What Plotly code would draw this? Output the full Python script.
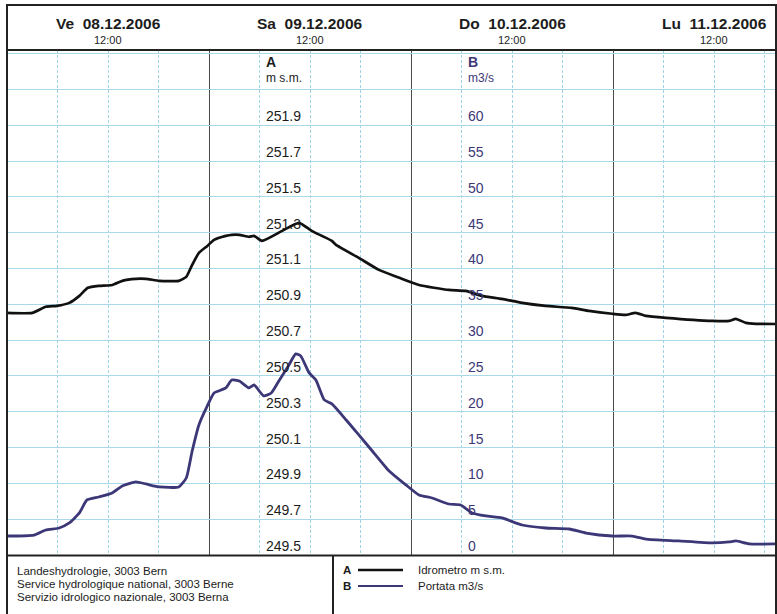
import plotly.graph_objects as go

# ---------------- data ----------------
A_time = ["2006-12-08 00:00", "2006-12-08 03:00", "2006-12-08 04:36", "2006-12-08 05:54", "2006-12-08 07:24",
          "2006-12-08 08:36", "2006-12-08 09:36", "2006-12-08 10:54", "2006-12-08 12:30", "2006-12-08 13:42",
          "2006-12-08 15:18", "2006-12-08 16:30", "2006-12-08 18:06", "2006-12-08 20:24", "2006-12-08 21:18",
          "2006-12-08 22:00", "2006-12-08 22:48", "2006-12-08 23:48", "2006-12-09 00:36", "2006-12-09 02:00",
          "2006-12-09 02:42", "2006-12-09 03:36", "2006-12-09 04:45", "2006-12-09 05:21", "2006-12-09 06:18",
          "2006-12-09 08:42", "2006-12-09 10:42", "2006-12-09 12:12", "2006-12-09 14:36", "2006-12-09 15:06",
          "2006-12-09 17:48", "2006-12-09 20:12", "2006-12-09 22:36", "2006-12-10 00:57", "2006-12-10 04:30",
          "2006-12-10 06:30", "2006-12-10 08:24", "2006-12-10 10:48", "2006-12-10 13:12", "2006-12-10 16:00",
          "2006-12-10 19:06", "2006-12-10 21:09", "2006-12-10 23:54", "2006-12-11 01:30", "2006-12-11 02:42",
          "2006-12-11 03:54", "2006-12-11 06:18", "2006-12-11 11:48", "2006-12-11 13:48", "2006-12-11 14:36",
          "2006-12-11 15:48", "2006-12-11 17:00", "2006-12-11 19:18"]
A_level = [250.852, 250.852, 250.886, 250.891, 250.908,
           250.947, 250.992, 251.003, 251.008, 251.031,
           251.042, 251.042, 251.031, 251.031, 251.053,
           251.120, 251.187, 251.226, 251.260, 251.282,
           251.288, 251.288, 251.277, 251.282, 251.254,
           251.310, 251.355, 251.310, 251.254, 251.232,
           251.159, 251.092, 251.048, 251.008, 250.980,
           250.975, 250.947, 250.930, 250.908, 250.891,
           250.880, 250.863, 250.847, 250.841, 250.852,
           250.835, 250.824, 250.807, 250.807, 250.819,
           250.796, 250.791, 250.790]

B_time = ["2006-12-08 00:00", "2006-12-08 03:12", "2006-12-08 04:36", "2006-12-08 06:12", "2006-12-08 07:24",
          "2006-12-08 08:36", "2006-12-08 09:30", "2006-12-08 10:54", "2006-12-08 12:30", "2006-12-08 13:42",
          "2006-12-08 15:18", "2006-12-08 16:30", "2006-12-08 18:06", "2006-12-08 20:24", "2006-12-08 21:18",
          "2006-12-08 22:00", "2006-12-08 22:48", "2006-12-08 23:48", "2006-12-09 00:36", "2006-12-09 02:00",
          "2006-12-09 02:42", "2006-12-09 03:36", "2006-12-09 04:45", "2006-12-09 05:21", "2006-12-09 06:30",
          "2006-12-09 07:24", "2006-12-09 08:18", "2006-12-09 09:30", "2006-12-09 10:18", "2006-12-09 10:54",
          "2006-12-09 11:54", "2006-12-09 12:42", "2006-12-09 13:42", "2006-12-09 14:36", "2006-12-09 16:18",
          "2006-12-09 17:48", "2006-12-09 19:24", "2006-12-09 21:24", "2006-12-09 23:24", "2006-12-10 00:57",
          "2006-12-10 02:30", "2006-12-10 04:30", "2006-12-10 05:54", "2006-12-10 07:15", "2006-12-10 08:54",
          "2006-12-10 10:48", "2006-12-10 13:12", "2006-12-10 16:00", "2006-12-10 18:48", "2006-12-10 20:48",
          "2006-12-10 23:54", "2006-12-11 02:18", "2006-12-11 03:54", "2006-12-11 07:48", "2006-12-11 11:48",
          "2006-12-11 13:48", "2006-12-11 14:36", "2006-12-11 16:12", "2006-12-11 19:18"]
B_flow = [2.65, 2.79, 3.49, 3.77, 4.47,
          5.87, 7.68, 8.10, 8.66, 9.64,
          10.20, 9.92, 9.50, 9.50, 10.75,
          14.52, 18.16, 20.81, 22.62, 23.32,
          24.44, 24.30, 23.32, 23.74, 22.21,
          22.62, 24.30, 26.54, 28.07, 27.79,
          25.42, 24.44, 21.65, 21.09, 18.85,
          16.76, 14.52, 11.73, 9.78, 8.38,
          7.96, 7.12, 6.98, 5.87, 5.45,
          5.17, 4.19, 3.77, 3.63, 3.07,
          2.65, 2.65, 2.23, 1.96, 1.68,
          1.82, 1.96, 1.54, 1.54]

A_ticks = [249.5, 249.7, 249.9, 250.1, 250.3, 250.5, 250.7, 250.9, 251.1, 251.3, 251.5, 251.7, 251.9]
A_tick_text = ["249.5", "249.7", "249.9", "250.1", "250.3", "250.5", "250.7", "250.9", "251.1", "251.3",
               "251.5", "251.7", "251.9"]
B_ticks = [0, 5, 10, 15, 20, 25, 30, 35, 40, 45, 50, 55, 60]
B_tick_text = ["0", "5", "10", "15", "20", "25", "30", "35", "40", "45", "50", "55", "60"]

day_noon = ["2006-12-08 12:00", "2006-12-09 12:00", "2006-12-10 12:00", "2006-12-11 12:00"]
day_labels = ["Ve\u00a0\u00a008.12.2006", "Sa\u00a0\u00a009.12.2006", "Do\u00a0\u00a010.12.2006",
              "Lu\u00a0\u00a011.12.2006"]
noon_label = "12:00"

footer_lines = ["Landeshydrologie, 3003 Bern",
                "Service hydrologique national, 3003 Berne",
                "Servizio idrologico nazionale, 3003 Berna"]
legend_keys = ["A", "B"]
legend_names = ["Idrometro m s.m.", "Portata m3/s"]

# ---------------- styling ----------------
W, H = 777, 614
FONT = "Liberation Sans, Arial, sans-serif"
INK = "#1c1c1c"
NAVY = "#3c3878"
GRID = "#a9d9e9"


def px(x):
    return x / W


def py(y):
    return 1 - y / H


fig = go.Figure()
fig.add_trace(go.Scatter(x=A_time, y=A_level, mode="lines", yaxis="y",
                         line=dict(color="#111111", width=2.7, shape="spline", smoothing=0.5),
                         hoverinfo="skip", showlegend=False))
fig.add_trace(go.Scatter(x=B_time, y=B_flow, mode="lines", yaxis="y2",
                         line=dict(color=NAVY, width=2.8, shape="spline", smoothing=0.5),
                         hoverinfo="skip", showlegend=False))

A_range = [249.5, 252.32]
B_range = [0, (A_range[1] - A_range[0]) / 0.2 * 5]

fig.update_layout(
    width=W, height=H,
    margin=dict(l=0, r=0, t=0, b=0),
    paper_bgcolor="white", plot_bgcolor="white",
    showlegend=False,
    font=dict(family=FONT, color=INK),
    xaxis=dict(type="date", domain=[px(7), px(776)],
               range=["2006-12-08 00:00", "2006-12-11 19:22"],
               showticklabels=False, ticks="", zeroline=False, showline=False,
               tick0="2006-12-08", dtick=86400000,
               showgrid=True, gridcolor="#4a4a4a", gridwidth=1.4,
               minor=dict(tick0="2006-12-08", dtick=21600000, showgrid=True,
                          gridcolor="#9ed2e4", griddash="3px,2px", gridwidth=1)),
    yaxis=dict(domain=[py(555), py(50)], range=A_range, tick0=249.5, dtick=0.2,
               showgrid=True, gridcolor=GRID, gridwidth=1,
               showticklabels=False, ticks="", zeroline=False, showline=False),
    yaxis2=dict(overlaying="y", range=B_range, showgrid=False, showticklabels=False,
                ticks="", zeroline=False, showline=False, side="right"),
)

ann = []
# axis tick labels (sit just above each gridline)
for v, t in zip(A_ticks, A_tick_text):
    ann.append(dict(x=px(264), xref="paper", y=v, yref="y", text=t, showarrow=False,
                    xanchor="left", yanchor="bottom", yshift=-1,
                    font=dict(size=14, color=INK, family=FONT)))
for v, t in zip(B_ticks, B_tick_text):
    ann.append(dict(x=px(466), xref="paper", y=v, yref="y2", text=t, showarrow=False,
                    xanchor="left", yanchor="bottom", yshift=-1,
                    font=dict(size=14, color=NAVY, family=FONT)))
# axis titles
ann.append(dict(x=px(264), xref="paper", y=py(62), yref="paper", text="<b>A</b>", showarrow=False,
                xanchor="left", yanchor="middle", font=dict(size=14, color=INK)))
ann.append(dict(x=px(264), xref="paper", y=py(78), yref="paper", text="m s.m.", showarrow=False,
                xanchor="left", yanchor="middle", font=dict(size=12, color=INK)))
ann.append(dict(x=px(466), xref="paper", y=py(62), yref="paper", text="<b>B</b>", showarrow=False,
                xanchor="left", yanchor="middle", font=dict(size=14, color=NAVY)))
ann.append(dict(x=px(466), xref="paper", y=py(78), yref="paper", text="m3/s", showarrow=False,
                xanchor="left", yanchor="middle", font=dict(size=12, color=NAVY)))
# header dates
for d, lab in zip(day_noon, day_labels):
    ann.append(dict(x=d, xref="x", y=py(23), yref="paper", text="<b>" + lab + "</b>", showarrow=False,
                    xanchor="center", yanchor="middle", font=dict(size=15.5, color=INK)))
    ann.append(dict(x=d, xref="x", y=py(40), yref="paper", text=noon_label, showarrow=False,
                    xanchor="center", yanchor="middle", font=dict(size=11, color=INK)))
# footer text
for i, line in enumerate(footer_lines):
    ann.append(dict(x=px(15), xref="paper", y=py(571 + 13 * i), yref="paper", text=line, showarrow=False,
                    xanchor="left", yanchor="middle", font=dict(size=11.5, color=INK)))
# legend
legend_colors = ["#111111", NAVY]
shapes = []
for i, (k, nm, c) in enumerate(zip(legend_keys, legend_names, legend_colors)):
    yy = 570 + 16 * i
    ann.append(dict(x=px(341), xref="paper", y=py(yy), yref="paper", text="<b>" + k + "</b>",
                    showarrow=False, xanchor="left", yanchor="middle", font=dict(size=11.5, color=INK)))
    ann.append(dict(x=px(416), xref="paper", y=py(yy), yref="paper", text=nm,
                    showarrow=False, xanchor="left", yanchor="middle", font=dict(size=11.5, color=INK)))
    shapes.append(dict(type="line", xref="paper", yref="paper", x0=px(358), x1=px(403),
                       y0=py(yy), y1=py(yy), line=dict(color=c, width=2.5 if i == 0 else 2)))

# frame
FR = "#222222"
shapes += [
    dict(type="rect", xref="paper", yref="paper", x0=px(7), x1=px(776), y0=py(5), y1=py(625),
         line=dict(color=FR, width=2)),
    dict(type="line", xref="paper", yref="paper", x0=px(7), x1=px(776), y0=py(50), y1=py(50),
         line=dict(color=FR, width=2)),
    dict(type="line", xref="paper", yref="paper", x0=px(7), x1=px(776), y0=py(555.5), y1=py(555.5),
         line=dict(color=FR, width=2)),
    dict(type="line", xref="paper", yref="paper", x0=px(333), x1=px(333), y0=py(555), y1=py(625),
         line=dict(color=FR, width=2)),
]

fig.update_layout(annotations=ann, shapes=shapes)
fig.write_html("out.html")
